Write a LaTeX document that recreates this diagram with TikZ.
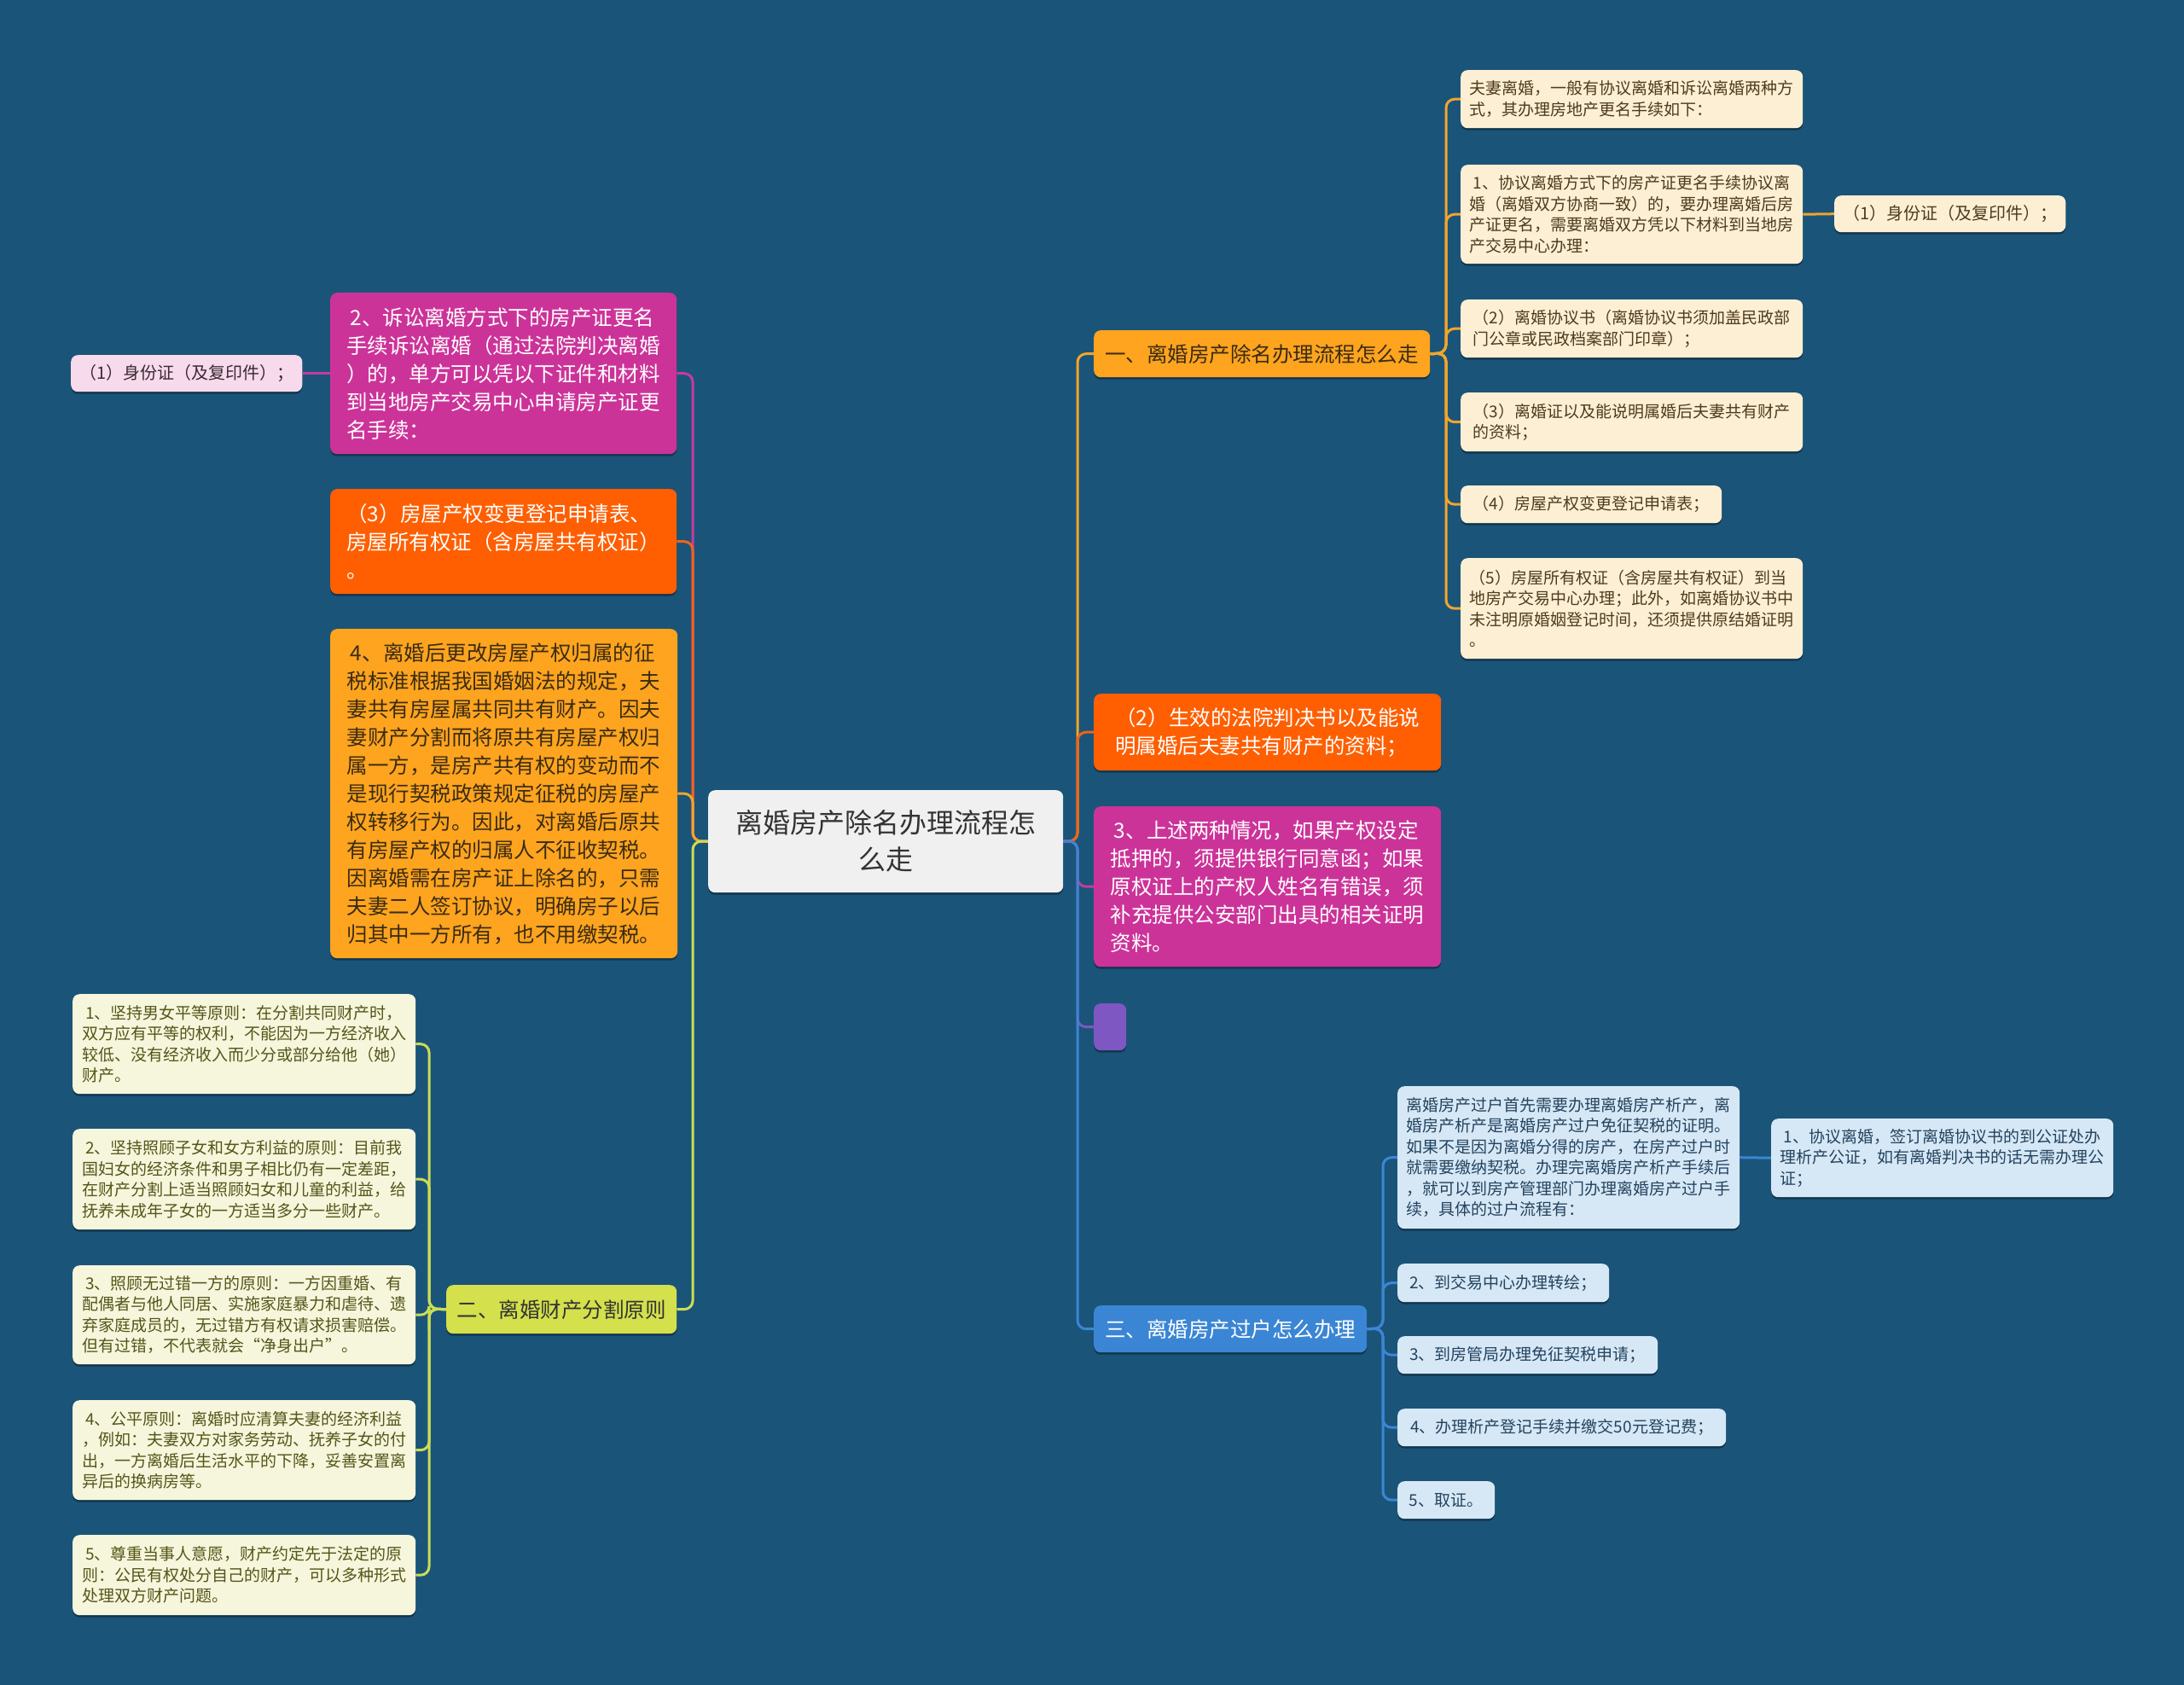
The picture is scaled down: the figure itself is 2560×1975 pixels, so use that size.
\documentclass[tikz,border=0pt]{standalone}
\usepackage{fontspec}
\setmainfont{Noto Sans CJK SC}
\usetikzlibrary{shadows}
\definecolor{bgc}{HTML}{1B5479}
\definecolor{cOrange}{HTML}{FFA41F}
\definecolor{cOrangeLn}{HTML}{F2A52C}
\definecolor{cRed}{HTML}{FF5F00}
\definecolor{cRedLn}{HTML}{F0641A}
\definecolor{cMag}{HTML}{CC3399}
\definecolor{cMagLn}{HTML}{C43C9C}
\definecolor{cPur}{HTML}{7E57C2}
\definecolor{cBlue}{HTML}{3B86D4}
\definecolor{cLime}{HTML}{D4E04C}
\definecolor{cLimeLn}{HTML}{CBDD55}
\definecolor{cRoot}{HTML}{F0F0F0}
\definecolor{fBeige}{HTML}{FCEFD4}
\definecolor{tBeige}{HTML}{4F3B1C}
\definecolor{fPink}{HTML}{F7DAEC}
\definecolor{tPink}{HTML}{3A2A33}
\definecolor{fOlive}{HTML}{F6F6DC}
\definecolor{tOlive}{HTML}{55551A}
\definecolor{fSky}{HTML}{D6E8F6}
\definecolor{tSky}{HTML}{24435E}
\definecolor{tDark}{HTML}{3A2C12}
\pgfdeclarelayer{back}
\pgfsetlayers{back,main}
\tikzset{
  box/.style={rounded corners=8pt, anchor=north west, inner xsep=10pt, inner ysep=0pt, align=left,
    drop shadow={shadow xshift=0pt, shadow yshift=-2.5pt, opacity=0.35, fill=black}},
  sz/.style 2 args={minimum width=#1pt, minimum height=#2pt},
  lone/.style={box, font=\fontsize{24.5}{33}\selectfont},
  ltwo/.style={box, font=\fontsize{19}{24.5}\selectfont},
  lsmall/.style={box, font=\fontsize{20}{24.5}\selectfont, align=center},
  conn/.style={line width=3pt, rounded corners=10pt},
}
\newcommand{\ind}{\hspace*{4pt}}
\begin{document}
\begin{tikzpicture}[x=1pt,y=-1pt]
\begin{pgfonlayer}{back}
\fill[bgc] (0,0) rectangle (2560,1975);
\end{pgfonlayer}
\useasboundingbox (0,0) rectangle (2560,1975);

% root
\node[box, sz={416}{120}, fill=cRoot, text=black!80, align=center, font=\fontsize{32}{43}\selectfont] (root) at (830,926) {离婚房产除名办理流程怎\\么走};

% right level 1
\node[lone, sz={394}{55}, fill=cOrange, text=tDark, align=center] (B) at (1282,387) {一、离婚房产除名办理流程怎么走};
\node[lone, sz={407}{90}, fill=cRed, text=white] (C) at (1282,813) {（2）生效的法院判决书以及能说\\明属婚后夫妻共有财产的资料；};
\node[lone, sz={407}{188}, fill=cMag, text=white] (D) at (1282,945) {\ind 3、上述两种情况，如果产权设定\\抵押的，须提供银行同意函；如果\\原权证上的产权人姓名有错误，须\\补充提供公安部门出具的相关证明\\资料。};
\node[lone, sz={38}{55}, fill=cPur, inner xsep=0pt] (E) at (1282,1176) {};
\node[lone, sz={320}{55}, fill=cBlue, text=white, align=center] (F) at (1282,1530) {三、离婚房产过户怎么办理};

% right level 2 under B
\node[ltwo, sz={401}{68}, fill=fBeige, text=tBeige] (A1) at (1712,82) {夫妻离婚，一般有协议离婚和诉讼离婚两种方\\式，其办理房地产更名手续如下：};
\node[ltwo, sz={401}{116}, fill=fBeige, text=tBeige] (A2) at (1712,193) {\ind 1、协议离婚方式下的房产证更名手续协议离\\婚（离婚双方协商一致）的，要办理离婚后房\\产证更名，需要离婚双方凭以下材料到当地房\\产交易中心办理：};
\node[lsmall, sz={267}{43}, fill=fBeige, text=tBeige] (A2a) at (2150,229) {（1）身份证（及复印件）；};
\node[ltwo, sz={401}{68}, fill=fBeige, text=tBeige] (A3) at (1712,351) {（2）离婚协议书（离婚协议书须加盖民政部\\门公章或民政档案部门印章）；};
\node[ltwo, sz={401}{69}, fill=fBeige, text=tBeige] (A4) at (1712,460) {（3）离婚证以及能说明属婚后夫妻共有财产\\的资料；};
\node[ltwo, sz={306}{44}, fill=fBeige, text=tBeige, align=center] (A5) at (1712,569) {（4）房屋产权变更登记申请表；};
\node[ltwo, sz={401}{118}, fill=fBeige, text=tBeige] (A6) at (1712,654) {（5）房屋所有权证（含房屋共有权证）到当\\地房产交易中心办理；此外，如离婚协议书中\\未注明原婚姻登记时间，还须提供原结婚证明\\。};

% right level 2 under F
\node[ltwo, sz={401}{167}, fill=fSky, text=tSky] (F1) at (1638,1273) {离婚房产过户首先需要办理离婚房产析产，离\\婚房产析产是离婚房产过户免征契税的证明。\\如果不是因为离婚分得的房产，在房产过户时\\就需要缴纳契税。办理完离婚房产析产手续后\\，就可以到房产管理部门办理离婚房产过户手\\续，具体的过户流程有：};
\node[ltwo, sz={401}{92}, fill=fSky, text=tSky] (F1a) at (2076,1311) {\ind 1、协议离婚，签订离婚协议书的到公证处办\\理析产公证，如有离婚判决书的话无需办理公\\证；};
\node[ltwo, sz={248}{45}, fill=fSky, text=tSky, align=center] (F2) at (1638,1481) {2、到交易中心办理转绘；};
\node[ltwo, sz={305}{44}, fill=fSky, text=tSky, align=center] (F3) at (1638,1566) {3、到房管局办理免征契税申请；};
\node[ltwo, sz={385}{44}, fill=fSky, text=tSky, align=center] (F4) at (1638,1651) {4、办理析产登记手续并缴交50元登记费；};
\node[ltwo, sz={114}{44}, fill=fSky, text=tSky, align=center] (F5) at (1638,1736) {5、取证。};

% left level 1
\node[lone, sz={406}{189}, fill=cMag, text=white] (G) at (387,343) {\ind 2、诉讼离婚方式下的房产证更名\\手续诉讼离婚（通过法院判决离婚\\）的，单方可以凭以下证件和材料\\到当地房产交易中心申请房产证更\\名手续：};
\node[lsmall, sz={266}{43}, fill=fPink, text=tPink] (G1) at (83,416) {（1）身份证（及复印件）；};
\node[lone, sz={406}{123}, fill=cRed, text=white] (H) at (387,573) {（3）房屋产权变更登记申请表、\\房屋所有权证（含房屋共有权证）\\。};
\node[lone, sz={407}{386}, fill=cOrange, text=tDark] (I) at (387,737) {\ind 4、离婚后更改房屋产权归属的征\\税标准根据我国婚姻法的规定，夫\\妻共有房屋属共同共有财产。因夫\\妻财产分割而将原共有房屋产权归\\属一方，是房产共有权的变动而不\\是现行契税政策规定征税的房屋产\\权转移行为。因此，对离婚后原共\\有房屋产权的归属人不征收契税。\\因离婚需在房产证上除名的，只需\\夫妻二人签订协议，明确房子以后\\归其中一方所有，也不用缴契税。};
\node[lone, sz={270}{57}, fill=cLime, text=black!80, align=center] (J) at (523,1506) {二、离婚财产分割原则};

% left level 2 under J
\node[ltwo, sz={402}{117}, fill=fOlive, text=tOlive] (J1) at (85,1165) {\ind 1、坚持男女平等原则：在分割共同财产时，\\双方应有平等的权利，不能因为一方经济收入\\较低、没有经济收入而少分或部分给他（她）\\财产。};
\node[ltwo, sz={402}{118}, fill=fOlive, text=tOlive] (J2) at (85,1323) {\ind 2、坚持照顾子女和女方利益的原则：目前我\\国妇女的经济条件和男子相比仍有一定差距，\\在财产分割上适当照顾妇女和儿童的利益，给\\抚养未成年子女的一方适当多分一些财产。};
\node[ltwo, sz={402}{116}, fill=fOlive, text=tOlive] (J3) at (85,1483) {\ind 3、照顾无过错一方的原则：一方因重婚、有\\配偶者与他人同居、实施家庭暴力和虐待、遗\\弃家庭成员的，无过错方有权请求损害赔偿。\\但有过错，不代表就会“净身出户”。};
\node[ltwo, sz={402}{117}, fill=fOlive, text=tOlive] (J4) at (85,1641) {\ind 4、公平原则：离婚时应清算夫妻的经济利益\\，例如：夫妻双方对家务劳动、抚养子女的付\\出，一方离婚后生活水平的下降，妥善安置离\\异后的换病房等。};
\node[ltwo, sz={402}{94}, fill=fOlive, text=tOlive] (J5) at (85,1799) {\ind 5、尊重当事人意愿，财产约定先于法定的原\\则：公民有权处分自己的财产，可以多种形式\\处理双方财产问题。};

% trunk coordinates
\coordinate (tR) at (1263,986);
\coordinate (tL) at (812,986);
\coordinate (tB) at (1695,414);
\coordinate (tF) at (1621,1557);
\coordinate (tJ) at (503,1534);

\begin{pgfonlayer}{back}
% right main branches
\draw[conn, cOrangeLn] (root.east) -- (tR) |- (B.west);
\draw[conn, cRedLn] (root.east) -- (tR) |- (C.west);
\draw[conn, cMagLn] (root.east) -- (tR) |- (D.west);
\draw[conn, cPur] (root.east) -- (tR) |- (E.west);
\draw[conn, cBlue] (root.east) -- (tR) |- (F.west);
% left main branches
\draw[conn, cMagLn] (root.west) -- (tL) |- (G.east);
\draw[conn, cRedLn] (root.west) -- (tL) |- (H.east);
\draw[conn, cOrangeLn] (root.west) -- (tL) |- (I.east);
\draw[conn, cLimeLn] (root.west) -- (tL) |- (J.east);
% B children
\foreach \n in {A1,A2,A3,A4,A5,A6}{\draw[conn, cOrangeLn] (B.east) -- (tB) |- (\n.west);}
\draw[conn, cOrangeLn] (A2.east) -- (A2a.west);
% F children
\foreach \n in {F1,F2,F3,F4,F5}{\draw[conn, cBlue] (F.east) -- (tF) |- (\n.west);}
\draw[conn, cBlue] (F1.east) -- (F1a.west);
% G child
\draw[conn, cMagLn] (G.west) -- (G1.east);
% J children
\foreach \n in {J1,J2,J3,J4,J5}{\draw[conn, cLimeLn] (J.west) -- (tJ) |- (\n.east);}
\end{pgfonlayer}
\end{tikzpicture}
\end{document}
